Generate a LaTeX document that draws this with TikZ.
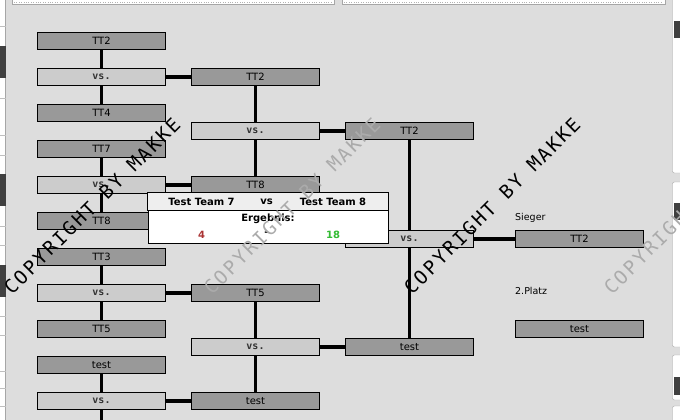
\documentclass[tikz,border=0pt]{standalone}
\usepackage{fontspec}
\setmainfont{DejaVu Sans}
\newfontfamily\vsfont{DejaVu Sans Mono}
\newfontfamily\wmfont[LetterSpace=12]{DejaVu Sans Mono}
\definecolor{pagebg}{HTML}{DDDDDD}
\definecolor{teamfill}{HTML}{999999}
\definecolor{matchfill}{HTML}{CCCCCC}
\definecolor{headfill}{HTML}{EEEEEE}
\definecolor{losscol}{HTML}{AA3333}
\definecolor{wincol}{HTML}{33BB33}
\definecolor{wmgrey}{HTML}{ABABAB}
\tikzset{
  team/.style={rectangle, draw=black, line width=0.9pt, fill=teamfill, minimum width=128pt,
    minimum height=17pt, inner sep=0pt, font=\fontsize{10}{11}\selectfont},
  match/.style={team, fill=matchfill, text=black!80, font=\vsfont\bfseries\fontsize{10}{11}\selectfont},
  link/.style={line width=3.6pt},
  label/.style={anchor=west, inner sep=0pt, font=\fontsize{9.5}{10}\selectfont},
  poptext/.style={inner sep=0pt, font=\bfseries\fontsize{10}{11}\selectfont},
  wmark/.style={inner sep=0pt, rotate=45, font=\wmfont\fontsize{19}{20}\selectfont}
}
\begin{document}
\begin{tikzpicture}[x=1pt, y=-1pt]
  \useasboundingbox (0,0) rectangle (680,420);
  \fill[pagebg] (0,0) rectangle (680,420);

  % page chrome
  \filldraw[fill=white, draw=gray!70] (12,-5) rectangle (334,4);
  \draw[gray!60, dotted] (14,2.5) -- (332,2.5);
  \filldraw[fill=white, draw=gray!70] (342,-5) rectangle (665,4);
  \draw[gray!60, dotted] (344,2.5) -- (663,2.5);
  \fill[white] (0,0) rectangle (5.5,420);
  \draw[gray!70] (5.5,0) -- (5.5,420);
  \foreach \sy in {26,98,135,155,226,245,316,335,371,388,406}
    \draw[gray!50] (0,\sy) -- (5.5,\sy);
  \fill[black!75] (0,46) rectangle (5.5,78);
  \fill[black!75] (0,174) rectangle (5.5,206);
  \fill[black!75] (0,265) rectangle (5.5,297);
  \filldraw[fill=white, draw=gray!70, rounded corners=2pt] (672.5,-5) rectangle (690,173);
  \filldraw[fill=white, draw=gray!70, rounded corners=2pt] (672.5,182) rectangle (690,347);
  \filldraw[fill=white, draw=gray!70, rounded corners=2pt] (672.5,355) rectangle (690,400);
  \filldraw[fill=white, draw=gray!70, rounded corners=2pt] (672.5,406) rectangle (690,430);
  \fill[black!75] (674,21) rectangle (680,38);
  \fill[black!75] (674,203) rectangle (680,220);
  \fill[black!75] (674,377) rectangle (680,395);

  % round 1
  \node[team] (a1) at (101.5,41) {TT2};
  \node[match] (m1) at (101.5,77) {vs.};
  \node[team] (a2) at (101.5,113) {TT4};
  \node[team] (a3) at (101.5,149) {TT7};
  \node[match] (m2) at (101.5,185) {vs.};
  \node[team] (a4) at (101.5,221) {TT8};
  \node[team] (a5) at (101.5,257) {TT3};
  \node[match] (m3) at (101.5,293) {vs.};
  \node[team] (a6) at (101.5,329) {TT5};
  \node[team] (a7) at (101.5,365) {test};
  \node[match] (m4) at (101.5,401) {vs.};
  \coordinate (a8) at (101.5,425);

  % round 2
  \node[team] (b1) at (255.5,77) {TT2};
  \node[match] (n1) at (255.5,131) {vs.};
  \node[team] (b2) at (255.5,185) {TT8};
  \node[team] (b3) at (255.5,293) {TT5};
  \node[match] (n2) at (255.5,347) {vs.};
  \node[team] (b4) at (255.5,401) {test};

  % round 3
  \node[team] (c1) at (409.5,131) {TT2};
  \node[match] (p1) at (409.5,239) {vs.};
  \node[team] (c2) at (409.5,347) {test};

  % final
  \node[label] (sieger) at (515,218) {Sieger};
  \node[team] (d1) at (579.5,239) {TT2};
  \node[label] (platz) at (515,291) {2.Platz};
  \node[team] (d2) at (579.5,329) {test};

  % connectors
  \draw[link] (a1) -- (m1); \draw[link] (m1) -- (a2);
  \draw[link] (a3) -- (m2); \draw[link] (m2) -- (a4);
  \draw[link] (a5) -- (m3); \draw[link] (m3) -- (a6);
  \draw[link] (a7) -- (m4); \draw[link] (m4) -- (a8);
  \draw[link] (m1) -- (b1); \draw[link] (m2) -- (b2);
  \draw[link] (m3) -- (b3); \draw[link] (m4) -- (b4);
  \draw[link] (b1) -- (n1); \draw[link] (n1) -- (b2);
  \draw[link] (b3) -- (n2); \draw[link] (n2) -- (b4);
  \draw[link] (n1) -- (c1); \draw[link] (n2) -- (c2);
  \draw[link] (c1) -- (p1); \draw[link] (p1) -- (c2);
  \draw[link] (p1) -- (d1);

  % result popup
  \node[draw=black, line width=0.9pt, fill=white, minimum width=240pt, minimum height=50pt,
    inner sep=0pt] (res) at (268,218) {};
  \filldraw[fill=headfill, line width=0.9pt] (res.north west) rectangle ([yshift=-18pt]res.north east);
  \node[poptext] (home) at (201.5,202) {Test Team 7};
  \node[poptext] (vs) at (266.5,202) {vs};
  \node[poptext] (away) at (333,202) {Test Team 8};
  \node[poptext] (erg) at (268,219) {Ergebnis:};
  \node[poptext, text=losscol] (score1) at (201.5,235) {4};
  \node[poptext] (dash) at (266.5,234) {-};
  \node[poptext, text=wincol] (score2) at (333,235) {18};

  % watermarks
  \foreach \wx/\wc in {92/black, 292/wmgrey, 492/black, 692/wmgrey}
    \node[wmark, text=\wc] (wm\wx) at (\wx,206) {COPYRIGHT BY MAKKE};
\end{tikzpicture}
\end{document}
